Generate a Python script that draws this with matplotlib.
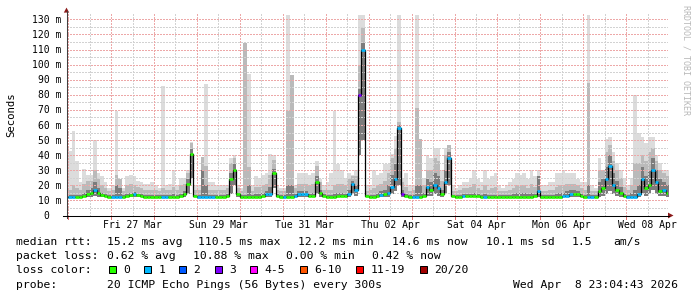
import numpy as np
import matplotlib
matplotlib.use('Agg')
import matplotlib.pyplot as plt
from matplotlib import transforms
from matplotlib.lines import Line2D
from matplotlib.patches import Polygon, Rectangle

# ---------------- data ----------------
# time in hours since Thu 26 Mar 2026 00:00; 2-hour bins
bin_hours = 2.0
t_start, t_end = -0.921, 335.079     # Wed 25 Mar 23:04:43 .. Wed 08 Apr 23:04:43

day_label_text = ['Fri 27 Mar', 'Sun 29 Mar', 'Tue 31 Mar', 'Thu 02 Apr',
                  'Sat 04 Apr', 'Mon 06 Apr', 'Wed 08 Apr']
day_label_hours = [36, 84, 132, 180, 228, 276, 324]

y_tick_values = [0, 10, 20, 30, 40, 50, 60, 70, 80, 90, 100, 110, 120, 130]

# median rtt (ms) per 2 h bin
med = [
    12.5, 12.5, 12.5, 12.5, 13, 14, 15, 17, 15, 13.5, 13, 12.5,          # Mar 26
    12.5, 12.5, 12.5, 12.5, 13, 13.5, 14, 13.5, 13, 12.5, 12.5, 12.5,    # Mar 27
    12.5, 12.5, 12.5, 12.5, 12.5, 12.5, 12.5, 13, 14, 21, 41, 13,        # Mar 28
    12.5, 12.5, 12.5, 12.5, 12.5, 12.5, 12.5, 12.5, 13, 24, 30, 14,      # Mar 29
    12.5, 12.5, 12.5, 12.5, 12.5, 12.5, 13, 14, 14, 28, 13, 12.5,        # Mar 30
    12.5, 12.5, 12.5, 13, 14, 14, 14, 13, 13, 22, 15, 13,                # Mar 31
    12.5, 12.5, 12.5, 13, 13, 13, 14, 21, 17, 80, 110, 13,               # Apr 01
    12.5, 12.5, 13, 13.5, 14, 15, 19, 24, 58, 14, 13, 12.5,              # Apr 02
    12.5, 12.5, 12.5, 13, 19, 17, 20, 18, 14, 22, 38, 13,                # Apr 03
    12.5, 12.5, 13, 13, 13, 13, 13, 12.5, 12.5, 12.5, 12.5, 12.5,        # Apr 04
    12.5, 12.5, 12.5, 12.5, 12.5, 12.5, 12.5, 12.5, 12.5, 12.5, 13, 16,  # Apr 05
    12.5, 12.5, 12.5, 12.5, 12.5, 12.5, 13, 13, 14, 14.5, 14, 13,        # Apr 06
    12.5, 12.5, 12.5, 12.5, 16, 18, 24, 33, 20, 17, 15, 13,              # Apr 07
    12.5, 12.5, 12.5, 14, 24, 18, 20, 30, 22, 16, 17, 15,                # Apr 08
]
# lowest ping (ms)
lo = [
    12, 12, 12, 12, 12, 12.5, 12.5, 13, 12.5, 12, 12, 12,
    12, 12, 12, 12, 12, 12, 12, 12, 12, 12, 12, 12,
    12, 12, 12, 12, 12, 12, 12, 12, 12.5, 14, 25, 12,
    12, 12, 12, 12, 12, 12, 12, 12, 12, 14, 20, 12,
    12, 12, 12, 12, 12, 12, 12, 12.5, 12.5, 18, 12, 12,
    12, 12, 12, 12, 12.5, 12.5, 12.5, 12, 12, 14, 12.5, 12,
    12, 12, 12, 12, 12, 12, 12.5, 14, 13, 40, 50, 12,
    12, 12, 12, 12, 12.5, 12.5, 14, 16, 20, 12.5, 12, 12,
    12, 12, 12, 12, 13, 13, 14, 13, 12.5, 14, 20, 12,
    12, 12, 12, 12, 12, 12, 12, 12, 12, 12, 12, 12,
    12, 12, 12, 12, 12, 12, 12, 12, 12, 12, 12, 12.5,
    12, 12, 12, 12, 12, 12, 12, 12, 12.5, 12.5, 12.5, 12,
    12, 12, 12, 12, 12.5, 13, 14, 16, 14, 13, 12.5, 12,
    12, 12, 12, 12.5, 15, 13, 14, 17, 14, 13, 13, 12.5,
]
# upper edge of the dark smoke (ms)
dk = [
    13.5, 13.5, 13.5, 13.5, 15, 17, 18, 22, 18, 15, 14, 13.5,
    13.5, 20, 18, 13.5, 14.5, 15, 15.5, 14.5, 14, 13.5, 13.5, 13.5,
    13.5, 13.5, 13.5, 13.5, 13.5, 14, 13.5, 14.5, 16, 24, 44, 13.5,
    13.5, 30, 20, 13.5, 13.5, 13.5, 13.5, 13.5, 14, 28, 34, 15,
    13.5, 13.5, 20, 13.5, 14, 14, 15, 16, 19, 31, 14, 13.5,
    13.5, 20, 20, 14, 16, 16, 16, 14, 15, 26, 17, 14,
    13.5, 13.5, 14, 15, 15, 14, 17, 23, 20, 84, 114, 13.5,
    13.5, 13.5, 15, 16, 17, 20, 27, 34, 60, 17, 14, 13.5,
    13.5, 20, 20, 15, 24, 22, 28, 26, 17, 30, 42, 13.5,
    13.5, 13.5, 14, 14, 14, 15, 14, 13.5, 14, 13.5, 13.5, 13.5,
    13.5, 13.5, 13.5, 13.5, 14, 15, 15, 15, 14, 15, 14, 26,
    13.5, 13.5, 13.5, 13.5, 14, 15, 15, 16, 17, 17, 16, 14,
    13.5, 20, 13.5, 13.5, 22, 24, 32, 40, 28, 23, 19, 14,
    13.5, 15, 17, 20, 32, 26, 30, 38, 30, 24, 22, 20,
]
# upper edge of the medium smoke (ms)
up = [
    17, 20, 18, 17, 21, 23, 23, 30, 24, 20, 18, 16,
    17, 27, 24, 16, 20, 21, 20, 19, 18, 17, 17, 17,
    17, 16, 18, 17, 17, 19, 17, 20, 21, 28, 48, 17,
    17, 39, 33, 17, 17, 17, 17, 17, 18, 35, 38, 18,
    16, 114, 32, 16, 19, 19, 20, 21, 27, 37, 17, 16,
    16, 69, 93, 18, 21, 21, 21, 20, 21, 33, 22, 17,
    17, 17, 20, 21, 21, 20, 24, 26, 26, 100, 124, 16,
    17, 18, 20, 21, 23, 28, 38, 45, 62, 22, 19, 16,
    17, 71, 51, 20, 30, 30, 38, 36, 23, 40, 47, 16,
    16, 17, 18, 18, 19, 21, 18, 17, 20, 17, 18, 19,
    16, 16, 16, 17, 18, 20, 20, 20, 18, 21, 19, 26,
    16, 16, 17, 17, 19, 20, 20, 21, 21, 21, 20, 18,
    17, 88, 16, 16, 30, 30, 42, 47, 36, 30, 25, 19,
    17, 20, 35, 35, 40, 36, 42, 45, 36, 30, 28, 26,
]
# highest ping (ms)
hi = [
    43, 56, 36, 22, 31, 27, 27, 50, 28, 26, 22, 18,
    20, 69, 24, 18, 26, 27, 26, 23, 22, 21, 21, 22,
    20, 18, 86, 20, 21, 30, 20, 25, 25, 30, 49, 20,
    20, 39, 87, 22, 22, 20, 20, 20, 20, 38, 40, 20,
    18, 114, 94, 20, 26, 25, 27, 28, 41, 40, 20, 18,
    18, 133, 93, 20, 28, 28, 28, 27, 28, 36, 24, 20,
    22, 28, 69, 34, 30, 25, 28, 27, 30, 133, 133, 20,
    20, 30, 27, 28, 34, 34, 41, 53, 133, 25, 28, 20,
    20, 133, 51, 25, 40, 38, 45, 45, 30, 45, 47, 20,
    18, 20, 22, 22, 25, 30, 24, 22, 30, 24, 26, 28,
    20, 18, 20, 22, 24, 28, 27, 28, 24, 30, 26, 30,
    20, 20, 22, 22, 28, 28, 30, 28, 28, 28, 24, 22,
    22, 133, 20, 18, 38, 30, 51, 52, 42, 35, 30, 25,
    20, 25, 80, 55, 52, 48, 52, 52, 40, 35, 30, 30,
]
# lost pings out of 20 per bin
loss = [
    1, 1, 0, 0, 0, 0, 0, 1, 0, 0, 0, 0,
    1, 1, 1, 0, 0, 0, 1, 0, 0, 0, 0, 0,
    0, 0, 1, 1, 0, 0, 0, 0, 0, 0, 0, 0,
    1, 1, 1, 1, 1, 0, 0, 0, 0, 0, 0, 0,
    0, 0, 0, 0, 0, 0, 0, 1, 1, 0, 0, 0,
    1, 0, 0, 1, 1, 1, 1, 0, 0, 0, 0, 0,
    0, 0, 0, 0, 0, 0, 1, 1, 1, 3, 1, 0,
    0, 0, 0, 1, 0, 1, 1, 1, 1, 3, 0, 0,
    1, 1, 0, 0, 1, 0, 1, 1, 0, 1, 1, 0,
    0, 0, 1, 0, 0, 0, 0, 0, 1, 0, 0, 0,
    0, 0, 0, 0, 0, 0, 0, 0, 0, 0, 0, 1,
    0, 0, 0, 0, 0, 0, 1, 1, 1, 0, 0, 0,
    0, 1, 1, 0, 0, 0, 1, 1, 1, 0, 0, 0,
    1, 1, 1, 1, 1, 0, 0, 1, 1, 0, 1, 0,
]

loss_labels = ['0', '1', '2', '3', '4-5', '6-10', '11-19', '20/20']
loss_upper = [0, 1, 2, 3, 5, 10, 19, 20]
loss_colors = ['#26ff00', '#00b8ff', '#0059ff', '#7e00ff',
               '#ff00ff', '#ff5500', '#ff0000', '#a10000']

stats_rtt = [('median rtt:', 16), ('15.2 ms avg', 107), ('110.5 ms max', 198.5),
             ('12.2 ms min', 298), ('14.6 ms now', 392), ('10.1 ms sd', 486),
             ('1.5', 571.5), ('am/s', 613.5)]
stats_loss = [('packet loss:', 16), ('0.62 % avg', 107), ('10.88 % max', 192.7),
              ('0.00 % min', 286.2), ('0.42 % now', 372)]
probe_row = [('probe:', 16), ('20 ICMP Echo Pings (56 Bytes) every 300s', 107),
             ('Wed Apr  8 23:04:43 2026', 512.8)]

# ---------------- figure ----------------
W, H = 697, 297
MONO = 'DejaVu Sans Mono'
fig = plt.figure(figsize=(W / 100, H / 100), dpi=100)
fig.patch.set_facecolor('white')

ax_l, ax_r, ax_t, ax_b = 66.5, 667.5, 13.0, 215.5
ax = fig.add_axes([ax_l / W, 1 - ax_b / H, (ax_r - ax_l) / W, (ax_b - ax_t) / H])
px_per_ms = 1.509
ymax = (ax_b - ax_t) / px_per_ms
ax.set_xlim(t_start, t_end)
ax.set_ylim(0, ymax)
for s in ax.spines.values():
    s.set_visible(False)
ax.set_xticks([])
ax.set_yticks([])
ax.set_facecolor('white')

med_a = np.array(med, float)
edges = np.arange(len(med_a) + 1) * bin_hours


def ext(a):
    a = np.asarray(a, float)
    return np.append(a, a[-1])


# smoke
ax.fill_between(edges, ext(lo), ext(hi), step='post', color='#dcdcdc', lw=0, zorder=1)
ax.fill_between(edges, ext(lo), ext(up), step='post', color='#bababa', lw=0, zorder=1.1)
ax.fill_between(edges, ext(lo), ext(dk), step='post', color='#7c7c7c', lw=0, zorder=1.2)

# grid (1 px dotted)
dots = [(0, (1.4, 1.4))]
minor_h = [v + 5 for v in y_tick_values if v + 5 < ymax]
major_h = [v for v in y_tick_values if v > 0]
day_lines = np.arange(0, t_end, 24)
half_lines = np.arange(12, t_end, 24)
grid_kw = dict(linestyles=dots, lw=0.72, antialiased=False)
ax.hlines(minor_h, t_start, t_end, colors='#d2d2d2', zorder=2, **grid_kw)
ax.vlines(half_lines, 0, ymax, colors='#d2d2d2', zorder=2, **grid_kw)
ax.hlines(major_h, t_start, t_end, colors='#eda8a8', zorder=2.1, **grid_kw)
ax.vlines(day_lines, 0, ymax, colors='#eda8a8', zorder=2.1, **grid_kw)
ax.vlines(day_lines, -2.2, 0, colors='#e07070', lw=0.72, zorder=2.1, clip_on=False,
          antialiased=False)

# median line, coloured by loss
ax.step(edges, ext(med_a), where='post', color='black', lw=0.9, zorder=3)


def loss_color(n):
    for up_n, c in zip(loss_upper, loss_colors):
        if n <= up_n:
            return c
    return loss_colors[-1]


ax.hlines(med_a, edges[:-1], edges[1:], colors=[loss_color(n) for n in loss],
          lw=1.9, zorder=4)


# axes lines and arrows (figure pixel coordinates)
def fx(p):
    return p / W


def fy(p):
    return 1 - p / H


fig.add_artist(Line2D([fx(66.5), fx(66.5)], [fy(218), fy(11)], color='#404040', lw=0.75))
fig.add_artist(Line2D([fx(63), fx(669)], [fy(215.5), fy(215.5)], color='black', lw=0.75))
fig.add_artist(Polygon([(fx(63.8), fy(12.6)), (fx(69.2), fy(12.6)), (fx(66.5), fy(7.6))],
                       closed=True, color='#8b1a1a', lw=0))
fig.add_artist(Polygon([(fx(668), fy(212.6)), (fx(668), fy(218.4)), (fx(673.5), fy(215.5))],
                       closed=True, color='#8b1a1a', lw=0))

# y tick labels
ylab_tr = transforms.offset_copy(
    transforms.blended_transform_factory(fig.transFigure, ax.transData),
    fig=fig, x=0, y=-3.6, units='dots')
for v in y_tick_values:
    if v == 0:
        ax.text(fx(49.3), v, '0', transform=ylab_tr, ha='right', va='baseline',
                family=MONO, fontsize=7, color='black', clip_on=False)
    else:
        ax.text(fx(61), v, f'{v} m', transform=ylab_tr, ha='right', va='baseline',
                family=MONO, fontsize=7, color='black', clip_on=False)

# x tick labels
xlab_tr = transforms.blended_transform_factory(ax.transData, fig.transFigure)
for h, lab in zip(day_label_hours, day_label_text):
    ax.text(h, fy(228.2), lab, transform=xlab_tr, ha='center', va='baseline',
            family=MONO, fontsize=7, color='black', clip_on=False)

# axis unit label
fig.text(fx(11.5), fy(114.5), 'Seconds', rotation=90, ha='center', va='center',
         family=MONO, fontsize=7.7, color='black')

# watermark
fig.text(fx(686), fy(5), 'RRDTOOL / TOBI OETIKER', rotation=270, ha='center', va='top',
         family=MONO, fontsize=6, color='#b8b8b8')

# legend / statistics
LFS = 8.2
rows_y = [245.3, 259.4, 273.4, 287.6]
for txt, x in stats_rtt:
    fig.text(fx(x), fy(rows_y[0]), txt, ha='left', va='baseline', family=MONO, fontsize=LFS)
for txt, x in stats_loss:
    fig.text(fx(x), fy(rows_y[1]), txt, ha='left', va='baseline', family=MONO, fontsize=LFS)
fig.text(fx(16), fy(rows_y[2]), 'loss color:', ha='left', va='baseline', family=MONO, fontsize=LFS)
char_w = 7.07
bx = 108.6
for lab, col in zip(loss_labels, loss_colors):
    fig.add_artist(Rectangle((fx(bx), fy(rows_y[2] - 0.9)), 7 / W, 7 / H,
                             facecolor=col, edgecolor='black', lw=0.72))
    tx = bx + 14.2
    fig.text(fx(tx), fy(rows_y[2]), lab, ha='left', va='baseline', family=MONO, fontsize=LFS)
    bx = tx + (len(lab) + 2) * char_w
for txt, x in probe_row:
    fig.text(fx(x), fy(rows_y[3]), txt, ha='left', va='baseline', family=MONO, fontsize=LFS)

fig.savefig('out.png', dpi=100, facecolor='white')
